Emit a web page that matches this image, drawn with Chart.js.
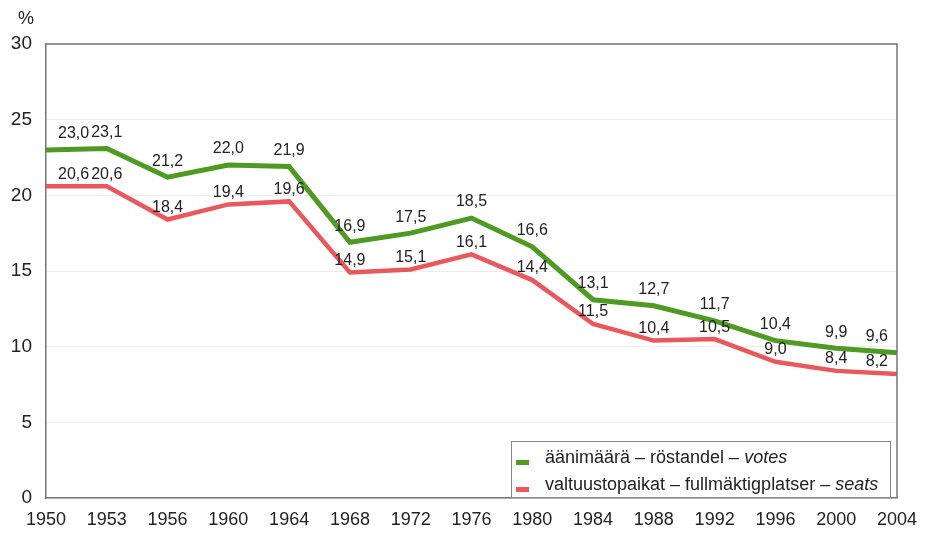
<!DOCTYPE html>
<html>
<head>
<meta charset="utf-8">
<script src="https://cdn.jsdelivr.net/npm/chart.js@4"></script>
<style>
  html, body { margin: 0; padding: 0; background: #fff; }
  #wrap { width: 926px; height: 533px; }
</style>
</head>
<body>
<div id="wrap"><canvas id="chart" width="926" height="533"></canvas></div>
<script>
const years = ['1950', '1953', '1956', '1960', '1964', '1968', '1972', '1976', '1980', '1984', '1988', '1992', '1996', '2000', '2004'];
const votes = [23.0, 23.1, 21.2, 22.0, 21.9, 16.9, 17.5, 18.5, 16.6, 13.1, 12.7, 11.7, 10.4, 9.9, 9.6];
const seats = [20.6, 20.6, 18.4, 19.4, 19.6, 14.9, 15.1, 16.1, 14.4, 11.5, 10.4, 10.5, 9.0, 8.4, 8.2];
const legendText = [
  ['äänimäärä – röstandel – ', 'votes'],
  ['valtuustopaikat – fullmäktigplatser – ', 'seats']
];

const GREEN = '#4f9a22';
const RED = '#e9585c';
const TEXT = '#222';
const FONT = '"Liberation Sans", Arial, sans-serif';

const fmt = v => v.toFixed(1).replace('.', ',');

// value labels above each point, kept inside the plot box
const valueLabels = {
  id: 'valueLabels',
  afterDatasetsDraw(chart) {
    const { ctx, chartArea } = chart;
    ctx.save();
    ctx.font = '16px ' + FONT;
    ctx.fillStyle = TEXT;
    ctx.textBaseline = 'middle';
    ctx.textAlign = 'left';
    chart.data.datasets.forEach((ds, i) => {
      const meta = chart.getDatasetMeta(i);
      const lift = i === 0 ? 16 : 12;
      meta.data.forEach((pt, j) => {
        const txt = fmt(ds.data[j]);
        const w = ctx.measureText(txt).width;
        let x = pt.x - w / 2;
        x = Math.max(chartArea.left + 12, Math.min(chartArea.right - 9 - w, x));
        ctx.fillText(txt, x, pt.y - lift);
      });
    });
    ctx.restore();
  }
};

// boxed legend inside the plot, bottom right, plus the % unit
const boxLegend = {
  id: 'boxLegend',
  afterDraw(chart) {
    const { ctx } = chart;
    ctx.save();
    ctx.font = '18px ' + FONT;
    ctx.fillStyle = TEXT;
    ctx.textAlign = 'left';
    ctx.textBaseline = 'middle';
    ctx.fillText('%', 18, 19);

    const bx = 511, by = 441, bw = 379, bh = 56;
    ctx.fillStyle = '#fff';
    ctx.fillRect(bx, by, bw, bh);
    ctx.strokeStyle = '#888';
    ctx.lineWidth = 1;
    ctx.strokeRect(bx + 0.5, by + 0.5, bw, bh);

    chart.data.datasets.forEach((ds, i) => {
      const y = by + 17 + i * 27;
      ctx.fillStyle = ds.borderColor;
      ctx.fillRect(bx + 5, y + 2, 13, 5);
      ctx.fillStyle = TEXT;
      ctx.font = '18px ' + FONT;
      const [plain, ital] = legendText[i];
      ctx.fillText(plain, bx + 34, y);
      const w = ctx.measureText(plain).width;
      ctx.font = 'italic 18px ' + FONT;
      ctx.fillText(ital, bx + 34 + w, y);
    });
    ctx.restore();
  }
};

new Chart(document.getElementById('chart'), {
  type: 'line',
  data: {
    labels: years,
    datasets: [
      { label: legendText[0].join(''), data: votes, borderColor: GREEN, borderWidth: 5, pointRadius: 0, tension: 0 },
      { label: legendText[1].join(''), data: seats, borderColor: RED, borderWidth: 4.5, pointRadius: 0, tension: 0 }
    ]
  },
  options: {
    responsive: false,
    animation: false,
    layout: { padding: { top: 44, right: 29, left: 0, bottom: 0 } },
    plugins: { legend: { display: false }, tooltip: { enabled: false } },
    scales: {
      x: {
        offset: false,
        afterFit: s => { s.height = 35; s.paddingLeft = 0; s.paddingRight = 0; },
        grid: { display: false, drawTicks: false },
        border: { color: '#777', width: 1.5 },
        ticks: { color: TEXT, font: { size: 18, family: FONT }, padding: 11, maxRotation: 0, autoSkip: false }
      },
      y: {
        min: 0, max: 30,
        afterFit: s => { s.width = 46; },
        grid: { color: 'rgba(0,0,0,0.07)', drawTicks: false },
        border: { color: '#777', width: 1.5 },
        ticks: { stepSize: 5, color: TEXT, font: { size: 19, family: FONT }, padding: 14 }
      }
    }
  },
  plugins: [valueLabels, boxLegend, {
    id: 'frame',
    afterDraw(chart) {
      const { ctx, chartArea: a } = chart;
      ctx.save();
      ctx.strokeStyle = '#777';
      ctx.lineWidth = 1.5;
      ctx.beginPath();
      ctx.moveTo(a.left, a.top);
      ctx.lineTo(a.right, a.top);
      ctx.lineTo(a.right, a.bottom);
      ctx.stroke();
      ctx.restore();
    }
  }]
});
</script>
</body>
</html>
